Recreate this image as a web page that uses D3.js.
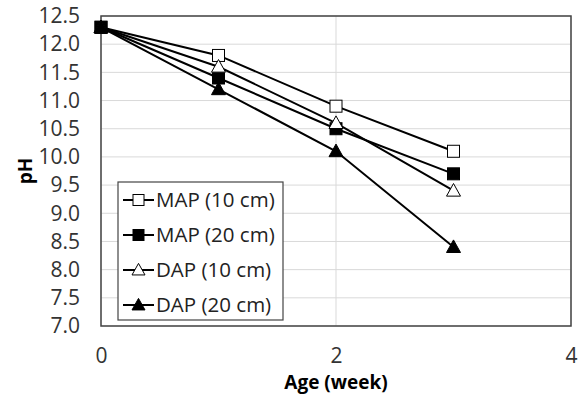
<!DOCTYPE html>
<html>
<head>
<meta charset="utf-8">
<script src="https://cdn.jsdelivr.net/npm/d3@7"></script>
<style>
  body { margin: 0; background: #fff; }
  svg { display: block; }
</style>
</head>
<body>
<script>
const width = 584, height = 395
const margin = {top: 16, right: 13, bottom: 69, left: 101}

const weeks = [0, 1, 2, 3]
const map10 = [12.3, 11.8, 10.9, 10.1]
const map20 = [12.3, 11.4, 10.5, 9.7]
const dap10 = [12.3, 11.6, 10.6, 9.4]
const dap20 = [12.3, 11.2, 10.1, 8.4]
const names = ['MAP (10 cm)', 'MAP (20 cm)', 'DAP (10 cm)', 'DAP (20 cm)']
const yTicks = d3.range(7, 12.51, 0.5)
const xTicks = [0, 2, 4]

const series = [
  {name: names[0], values: map10, shape: 'square', filled: false},
  {name: names[1], values: map20, shape: 'square', filled: true},
  {name: names[2], values: dap10, shape: 'triangle', filled: false},
  {name: names[3], values: dap20, shape: 'triangle', filled: true}
]

const font = 'Open Sans, sans-serif'

const svg = d3.select('body').append('svg')
  .attr('width', width)
  .attr('height', height)
  .style('font-family', font)

const x = d3.scaleLinear().domain([0, 4]).range([margin.left, width - margin.right])
const y = d3.scaleLinear().domain([7, 12.5]).range([height - margin.bottom, margin.top])

// gridlines
svg.append('g')
  .selectAll('line').data(yTicks).enter()
  .append('line')
  .attr('x1', x(0)).attr('x2', x(4))
  .attr('y1', d => y(d)).attr('y2', d => y(d))
  .attr('stroke', '#d9d9d9').attr('stroke-width', 1)

svg.append('g')
  .selectAll('line').data(xTicks).enter()
  .append('line')
  .attr('y1', y(7)).attr('y2', y(12.5))
  .attr('x1', d => x(d)).attr('x2', d => x(d))
  .attr('stroke', '#d9d9d9').attr('stroke-width', 1)

// axes (labels only)
const yAxis = svg.append('g')
  .attr('transform', `translate(${x(0)},0)`)
  .call(d3.axisLeft(y).tickValues(yTicks).tickFormat(d3.format('.1f')).tickSize(0).tickPadding(21))
yAxis.select('.domain').remove()
yAxis.selectAll('text').attr('font-size', 21).attr('font-family', font).attr('fill', '#333')

const xAxis = svg.append('g')
  .attr('transform', `translate(0,${y(7)})`)
  .call(d3.axisBottom(x).tickValues(xTicks).tickFormat(d3.format('d')).tickSize(0).tickPadding(22))
xAxis.select('.domain').remove()
xAxis.selectAll('text').attr('font-size', 21).attr('font-family', font).attr('fill', '#333')

// plot border
svg.append('rect')
  .attr('x', x(0)).attr('y', y(12.5))
  .attr('width', x(4) - x(0)).attr('height', y(7) - y(12.5))
  .attr('fill', 'none').attr('stroke', '#444').attr('stroke-width', 1.5)

// axis titles
svg.append('text')
  .attr('x', x(2)).attr('y', 389)
  .attr('text-anchor', 'middle')
  .attr('font-size', 19).attr('font-weight', 'bold')
  .text('Age (week)')

svg.append('text')
  .attr('transform', `translate(32,${y(9.75)}) rotate(-90)`)
  .attr('text-anchor', 'middle')
  .attr('font-size', 19).attr('font-weight', 'bold')
  .text('pH')

// marker
let drawMarker = (g, s, cx, cy, size) => {
  if (s.shape === 'square') {
    g.append('rect')
      .attr('x', cx - size / 2).attr('y', cy - size / 2)
      .attr('width', size).attr('height', size)
      .attr('fill', s.filled ? '#000' : '#fff')
      .attr('stroke', '#000').attr('stroke-width', 1)
  } else {
    g.append('path')
      .attr('d', `M${cx},${cy - size * 0.6}L${cx + size / 2 + 1},${cy + size * 0.45}L${cx - size / 2 - 1},${cy + size * 0.45}Z`)
      .attr('fill', s.filled ? '#000' : '#fff')
      .attr('stroke', '#000').attr('stroke-width', 1)
  }
}

const line = d3.line()
  .x((d, i) => x(weeks[i]))
  .y(d => y(d))

const plot = svg.append('g')
series.forEach(s => {
  const g = plot.append('g')
  g.append('path')
    .attr('d', line(s.values))
    .attr('fill', 'none')
    .attr('stroke', '#000')
    .attr('stroke-width', 2)
  s.values.forEach((v, i) => drawMarker(g, s, x(weeks[i]), y(v), 12))
})

// legend
const legend = svg.append('g')
legend.append('rect')
  .attr('x', 118).attr('y', 182)
  .attr('width', 165).attr('height', 138)
  .attr('fill', '#fff').attr('stroke', '#444').attr('stroke-width', 1.2)

series.forEach((s, i) => {
  const ly = 200 + i * 35
  legend.append('line')
    .attr('x1', 123).attr('x2', 154)
    .attr('y1', ly).attr('y2', ly)
    .attr('stroke', '#000').attr('stroke-width', 2)
  drawMarker(legend, s, 138.5, ly, 11)
  legend.append('text')
    .attr('x', 156).attr('y', ly)
    .attr('dy', '0.35em')
    .attr('font-size', 20.5)
    .attr('fill', '#222')
    .text(s.name)
})
</script>
</body>
</html>
